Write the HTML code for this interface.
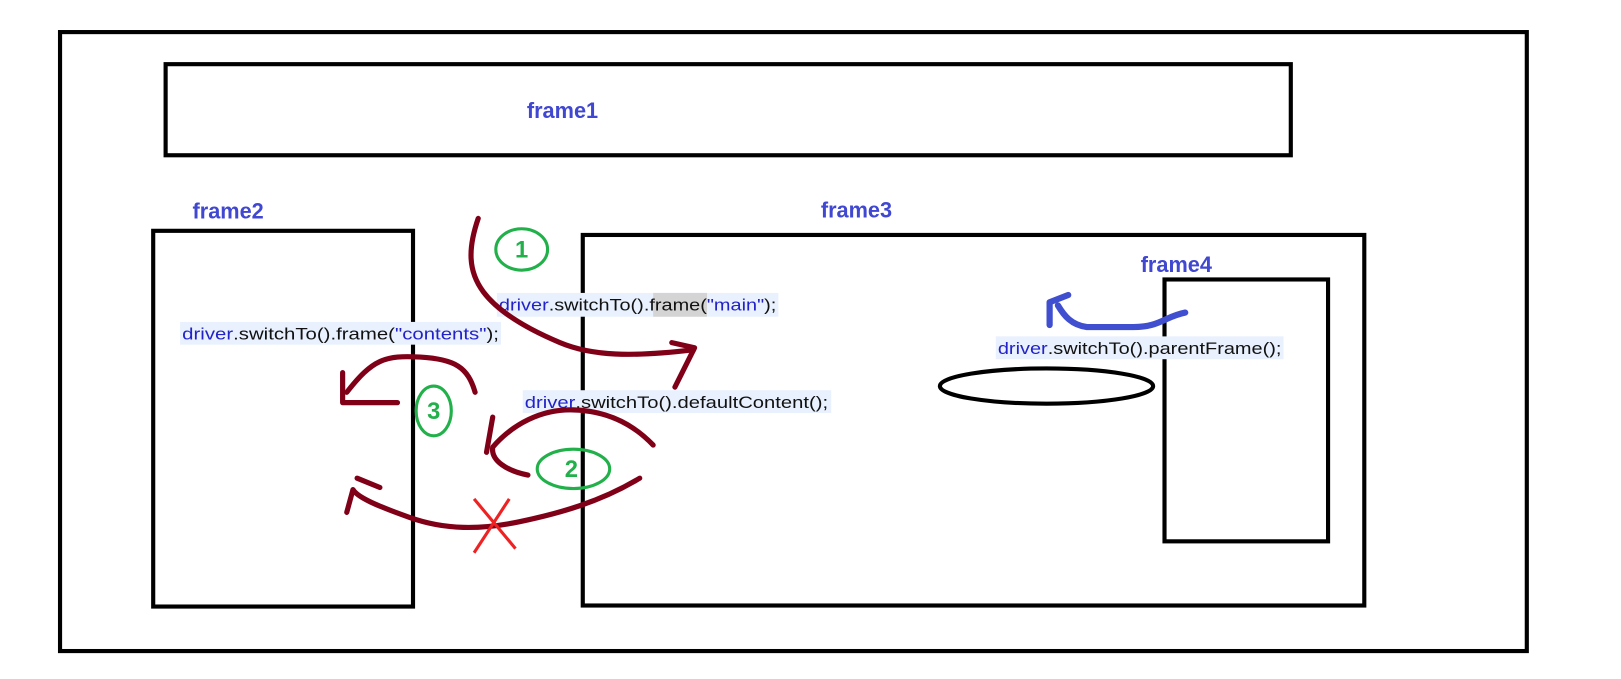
<!DOCTYPE html>
<html><head><meta charset="utf-8"><style>
html,body{margin:0;padding:0;background:#fff;width:1621px;height:679px;overflow:hidden}
svg{display:block}
.t{font-family:"Liberation Sans",sans-serif;font-weight:bold;fill:#4047d0;font-size:21px}
.c{font-family:"Liberation Sans",sans-serif;font-size:16.5px;fill:#111}
.b{fill:#2222c8}
.g{font-family:"Liberation Sans",sans-serif;font-size:23px;font-weight:bold;fill:#22b04a;text-anchor:middle}
</style></head><body>
<svg width="1621" height="679" viewBox="0 0 1566 656" preserveAspectRatio="none">
<g fill="none" stroke="#000" stroke-width="4">
<rect x="58" y="31" width="1417" height="598"/>
<rect x="160" y="62" width="1087" height="88"/>
<rect x="148" y="223" width="251" height="363"/>
<rect x="563" y="227" width="755" height="358"/>
<rect x="1125" y="270" width="158" height="253"/>
<ellipse cx="1011" cy="373" rx="103" ry="17"/>
</g>
<text class="t" x="509" y="114">frame1</text>
<text class="t" x="186" y="211">frame2</text>
<text class="t" x="793" y="210">frame3</text>
<text class="t" x="1102" y="263">frame4</text>
<!-- labels -->
<rect x="174" y="311" width="310" height="22" fill="#e8f1fd"/>
<rect x="480" y="283" width="272" height="23" fill="#e8f1fd"/>
<rect x="631" y="283" width="52" height="23" fill="#d4d4d4"/>
<rect x="505" y="377" width="298" height="22" fill="#e8f1fd"/>
<rect x="962" y="325" width="278" height="22" fill="#e8f1fd"/>
<text class="c" x="176" y="328" textLength="306" lengthAdjust="spacingAndGlyphs"><tspan class="b">driver</tspan>.switchTo().frame(<tspan class="b">"contents"</tspan>);</text>
<text class="c" x="482" y="300" textLength="268" lengthAdjust="spacingAndGlyphs"><tspan class="b">driver</tspan>.switchTo().frame(<tspan class="b">"main"</tspan>);</text>
<text class="c" x="507" y="394" textLength="293" lengthAdjust="spacingAndGlyphs"><tspan class="b">driver</tspan>.switchTo().defaultContent();</text>
<text class="c" x="964" y="342" textLength="274" lengthAdjust="spacingAndGlyphs"><tspan class="b">driver</tspan>.switchTo().parentFrame();</text>
<!-- red curves -->
<g fill="none" stroke="#800018" stroke-width="5" stroke-linecap="round" stroke-linejoin="round">
<path d="M462,211 C452,240 452,262 467,282 S510,318 541,331 S610,345 670,338"/>
<polyline points="649,331 671,336 652,374"/>
<path d="M459,379 C452,355 440,347 406,345 S360,347 335,379"/>
<polyline points="331,360 331,389 384,389"/>
<path d="M631,430 C610,408 585,397 554,396 S495,410 476,432 C474,445 490,455 510,459"/>
<polyline points="476,403 470,437"/>
<path d="M618,462 C580,485 540,496 502,504 S430,512 396,500 S345,480 341,473 L335,495"/>
<polyline points="345,462 367,471"/>
</g>
<g stroke="#ee2222" stroke-width="3"><line x1="458" y1="482" x2="498" y2="530"/><line x1="492" y1="482" x2="458" y2="534"/></g>
<!-- green -->
<g fill="none" stroke="#22b04a" stroke-width="3">
<ellipse cx="504" cy="241" rx="25" ry="20"/>
<ellipse cx="419" cy="397" rx="17" ry="24"/>
<ellipse cx="554" cy="453" rx="35" ry="19"/>
</g>
<text class="g" x="504" y="249">1</text>
<text class="g" x="419" y="405">3</text>
<text class="g" x="552" y="461">2</text>
<!-- blue arrow -->
<g fill="none" stroke="#3f4fd0" stroke-width="6" stroke-linecap="round" stroke-linejoin="round">
<path d="M1145,302 C1125,306 1120,316 1095,316 L1050,316 C1035,314 1028,305 1022,295"/>
<polyline points="1014,314 1014,292 1032,285"/>
</g>
</svg>
</body></html>
